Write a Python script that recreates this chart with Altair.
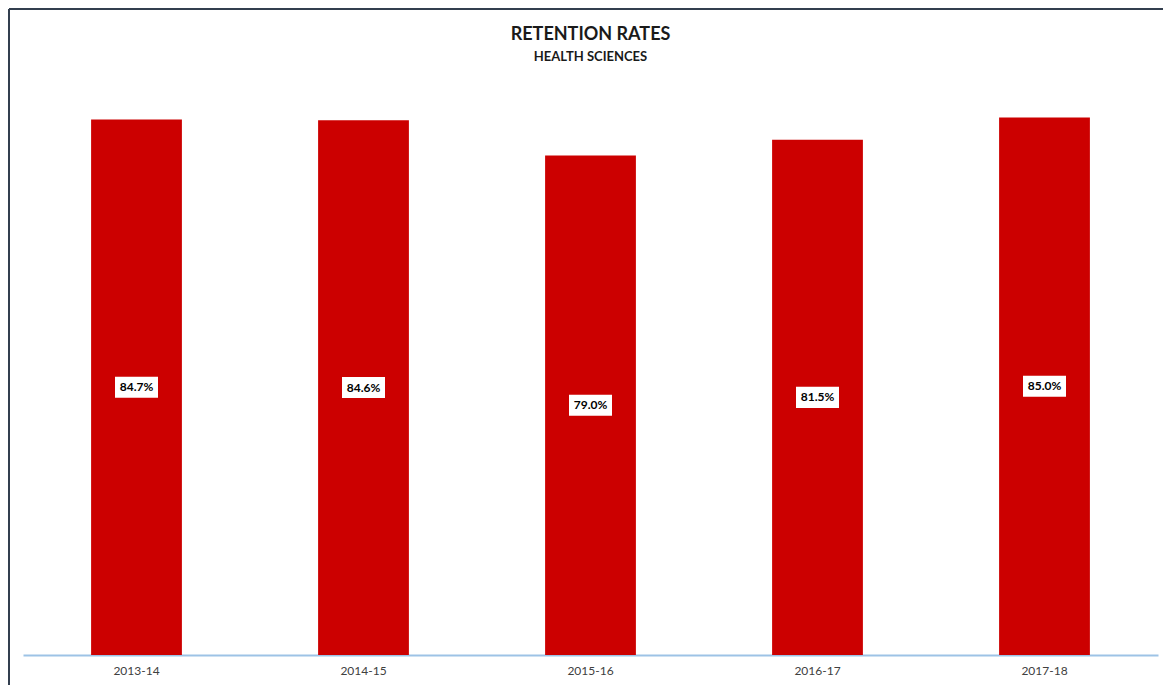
import altair as alt
import pandas as pd

years = ["2013-14", "2014-15", "2015-16", "2016-17", "2017-18"]
rates = [84.7, 84.6, 79.0, 81.5, 85.0]
labels = ["84.7%", "84.6%", "79.0%", "81.5%", "85.0%"]
title_text = "RETENTION RATES"
subtitle_text = "HEALTH SCIENCES"

df = pd.DataFrame({"year": years, "rate": rates, "label": labels})

FONT = "Lato"
W, H = 1135, 569
yscale = alt.Scale(domain=[0, 90], nice=False)

x = alt.X("year:N", sort=years, title=None,
          scale=alt.Scale(paddingInner=0.6, paddingOuter=0.3),
          axis=alt.Axis(labelAngle=0, ticks=False, domainColor="#9DC3E6", domainWidth=2,
                        labelFont=FONT, labelFontSize=12, labelColor="#404040",
                        labelPadding=10, grid=False))

bars = alt.Chart(df).mark_bar(color="#CC0000").encode(
    x=x, y=alt.Y("rate:Q", scale=yscale, axis=None))

base_mid = alt.Chart(df).transform_calculate(mid="datum.rate / 2")

boxes = base_mid.mark_point(
    shape="M-1,-0.49L1,-0.49L1,0.49L-1,0.49Z", filled=True, fill="white", opacity=1,
    size=43 * 43, strokeWidth=0
).encode(x=alt.X("year:N", sort=years), y=alt.Y("mid:Q", scale=yscale))

texts = base_mid.mark_text(font=FONT, fontSize=12, fontWeight="bold", color="#000000").encode(
    x=alt.X("year:N", sort=years), y=alt.Y("mid:Q", scale=yscale), text="label:N")

one = alt.Data(values=[{"k": 0}])
title_mark = alt.Chart(one).mark_text(
    font=FONT, fontSize=18, fontWeight="bold", color="#1a1a1a", baseline="alphabetic",
    align="center", text=title_text
).encode(x=alt.value(W / 2), y=alt.value(-46))
subtitle_mark = alt.Chart(one).mark_text(
    font=FONT, fontSize=13, fontWeight="bold", color="#1a1a1a", baseline="alphabetic",
    align="center", text=subtitle_text
).encode(x=alt.value(W / 2), y=alt.value(-25))

frame_left = alt.Chart(one).mark_rule(color="#333F4F", strokeWidth=2).encode(
    x=alt.value(-14), y=alt.value(-77), y2=alt.value(700))
frame_top = alt.Chart(one).mark_rule(color="#333F4F", strokeWidth=2).encode(
    x=alt.value(-14), x2=alt.value(1200), y=alt.value(-77))

chart = alt.layer(bars, boxes, texts, title_mark, subtitle_mark, frame_left, frame_top).properties(
    width=W, height=H,
    background="white",
    autosize=alt.AutoSizeParams(type="none"),
    padding={"left": 15, "top": 78, "right": 5, "bottom": 30},
).configure_view(strokeWidth=0, stroke="transparent")

chart.save("out.html", embed_options={"renderer": "svg", "actions": False})
